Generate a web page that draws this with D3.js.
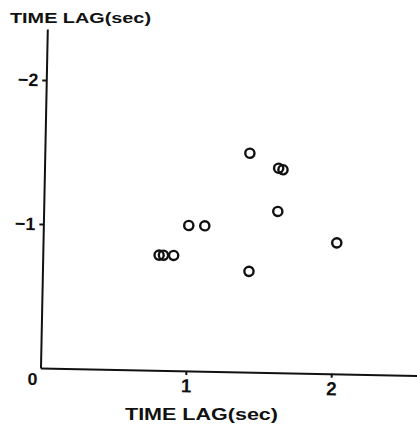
<!DOCTYPE html>
<html lang="en">
<head>
    <meta charset="UTF-8">
    <title>Time lag scatter</title>
    <script src="https://d3js.org/d3.v7.min.js"></script>
    <style>
        body { margin: 0; background: #fff; }
        text { font-family: "Liberation Sans", Arial, sans-serif; font-weight: bold; fill: #111; }
        .axis path, .axis line { stroke: #111; stroke-width: 2; }
    </style>
</head>
<body>
    <svg width="417" height="427"></svg>
    <script>
        const lagX = [1.41, 1.61, 1.64, 1.61, 1.00, 1.11, 0.80, 0.83, 0.90, 2.02, 1.42];
        const lagY = [-1.52, -1.42, -1.41, -1.12, -1.01, -1.01, -0.80, -0.80, -0.80, -0.91, -0.70];
        const xTicks = [1, 2];
        const xTickLabels = ["1", "2"];
        const yTicks = [-2, -1];
        const yTickLabels = ["\u22122", "\u22121"];
        const axisTitle = "TIME LAG(sec)";

        const points = lagX.map((x, i) => ({x: x, y: lagY[i]}));

        const svg = d3.select("svg");

        // the scan is a little tilted, so the plot is drawn in a rotated frame
        const ox = 40.5, oy = 368, tilt = 1.15;
        const plot = svg.append("g")
            .attr("transform", `translate(${ox},${oy}) rotate(${tilt})`);

        const x = d3.scaleLinear().domain([0, 2.59]).range([0, 376.6]);
        const y = d3.scaleLinear().domain([0, -2.354]).range([0, -339]);

        const xAxis = plot.append("g")
            .attr("class", "axis")
            .call(d3.axisBottom(x)
                .tickValues(xTicks)
                .tickFormat((d, i) => xTickLabels[i])
                .tickSize(4)
                .tickSizeOuter(0)
                .tickPadding(4));
        xAxis.selectAll("text").attr("font-size", 19);

        const yAxis = plot.append("g")
            .attr("class", "axis")
            .call(d3.axisLeft(y)
                .tickValues(yTicks)
                .tickFormat((d, i) => yTickLabels[i])
                .tickSize(4)
                .tickSizeOuter(0)
                .tickPadding(4));
        yAxis.selectAll("text").attr("font-size", 18);

        // origin label
        svg.append("text")
            .attr("x", ox - 8)
            .attr("y", oy + 17)
            .attr("text-anchor", "middle")
            .attr("font-size", 17)
            .attr("textLength", 10)
            .attr("lengthAdjust", "spacingAndGlyphs")
            .text("0");

        svg.append("text")
            .attr("x", 10)
            .attr("y", 23)
            .attr("font-size", 14)
            .attr("textLength", 141)
            .attr("lengthAdjust", "spacingAndGlyphs")
            .text(axisTitle);

        svg.append("text")
            .attr("x", 125)
            .attr("y", 420)
            .attr("font-size", 16)
            .attr("textLength", 153)
            .attr("lengthAdjust", "spacingAndGlyphs")
            .text(axisTitle);

        plot.append("g").selectAll("circle")
            .data(points)
            .enter().append("circle")
            .attr("cx", d => x(d.x))
            .attr("cy", d => y(d.y))
            .attr("r", 4.6)
            .attr("fill", "none")
            .attr("stroke", "#111")
            .attr("stroke-width", 2.4);
    </script>
</body>
</html>
